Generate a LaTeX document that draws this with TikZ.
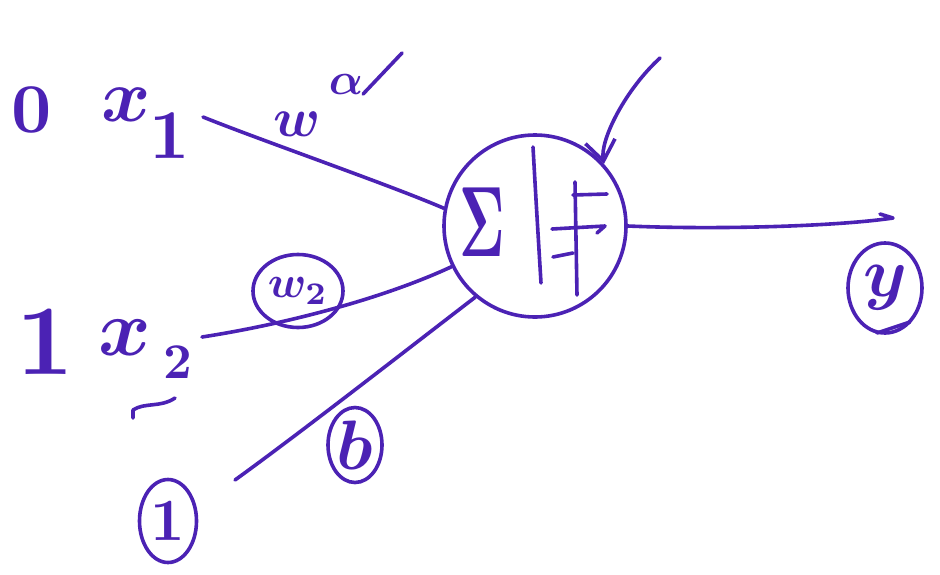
\documentclass[tikz,border=0pt]{standalone}
\usetikzlibrary{shapes.geometric,arrows.meta}
\definecolor{ink}{HTML}{4B22B4}
\tikzset{
  pen/.style={line width=3.6pt, line cap=round, line join=round},
  lbl/.style={inner sep=0pt, outer sep=0pt},
  ring/.style={draw, ellipse, pen, inner sep=0pt},
}
\newcommand{\handtext}[2]{\scalebox{#1}{\bfseries\boldmath #2}}
\begin{document}
\begin{tikzpicture}[x=1pt, y=-1pt, color=ink, pen]
\fill[white] (0,0) rectangle (940,574);
\useasboundingbox (0,0) rectangle (940,574);

% neuron
\node[draw, circle, pen, minimum size=182pt, inner sep=0pt] (neuron) at (535,226) {};
\node[lbl] (sigma) at (482,222) {\scalebox{5.5}[10]{\boldmath$\Sigma$}};
\draw (533,147) .. controls (536,200) .. (541,283);
\draw (575,182) -- (577,295);
\draw (573,195) -- (607,194);
\draw (552,229) -- (605,226) -- (597,233);
\draw (553,257) -- (573,253);

% top arrow
\coordinate (arrowstart) at (660,58);
\draw[-{Straight Barb[length=20pt,width=30pt]}] (arrowstart) .. controls (625,90) and (600,140) .. (neuron.42);

% output
\coordinate (yend) at (893,218);
\draw (neuron.east) .. controls (720,230) and (840,226) .. (yend) -- (880,214);
\node[ring, minimum width=74pt, minimum height=90pt] (y) at (885,288) {\handtext{7}{$y$}};
\draw (877,333) -- (910,322);

% x1
\node[lbl] (zero) at (32,110) {\handtext{7}{0}};
\node[lbl] (xone) at (126,105) {\handtext{7.5}{$x$}};
\node[lbl] (xonesub) at (170,136) {\handtext{7}{1}};
\coordinate (xoneout) at (203,117);
\draw (xoneout) .. controls (260,140) and (390,185) .. (neuron.169);
\node[lbl] (wone) at (297,124) {\handtext{5.5}{$w$}};
\node[lbl] (alpha) at (346,84) {\handtext{4.5}{$\alpha$}};
\coordinate (tailend) at (402,53);
\draw (alpha.south east) -- (tailend);

% x2
\node[lbl] (one) at (45,342) {\handtext{10}{1}};
\node[lbl] (xtwo) at (125,338) {\handtext{8}{$x$}};
\node[lbl] (xtwosub) at (178,362) {\handtext{5}{2}};
\draw (133,418) -- (133,410) .. controls (145,402) and (160,408) .. (175,398);
\coordinate (xtwoout) at (202,337);
\draw (xtwoout) .. controls (280,325) and (380,300) .. (neuron.206);
\node[ring, minimum width=90pt, minimum height=73pt] (wtwo) at (298,291) {\handtext{4.5}{$w_2$}};

% bias
\node[ring, minimum width=54pt, minimum height=75pt] (b) at (355,445) {\handtext{7}{$b$}};
\node[ring, minimum width=57pt, minimum height=83pt] (bias) at (168,521) {\handtext{6}{1}};
\coordinate (biasout) at (235,480);
\draw (biasout) .. controls (300,433) and (400,355) .. (neuron.230);
\end{tikzpicture}
\end{document}
